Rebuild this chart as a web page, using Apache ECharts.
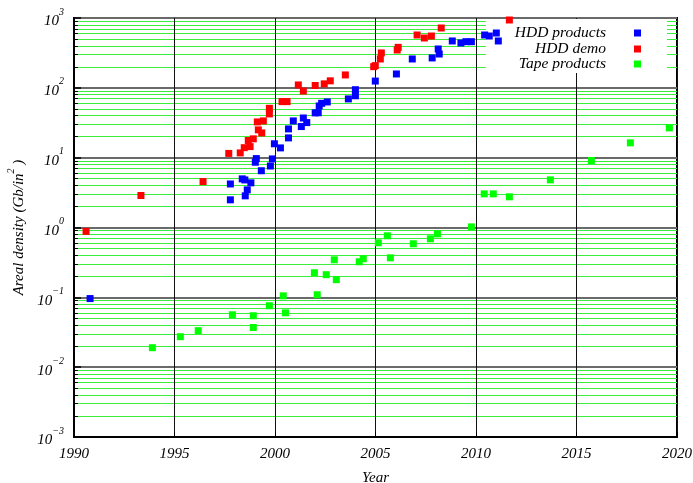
<!DOCTYPE html>
<html>
<head>
<meta charset="utf-8">
<script src="https://cdn.jsdelivr.net/npm/echarts@6/dist/echarts.min.js"></script>
<style>
  html, body { margin: 0; padding: 0; background: #fff; }
  #chart { width: 693px; height: 483px; }
</style>
</head>
<body>
<div id="chart"></div>
<script>
// 数据：年份与面密度 (Gb/in^2)
const hddProductsYear = [
    1990.8, 1997.78, 1997.78, 1998.37, 1998.5, 1998.8, 1998.62, 1998.52,
    1999.02, 1999.07, 1999.32, 1999.77, 1999.87, 1999.97, 2000.27, 2000.67,
    2000.67, 2000.91, 2001.31, 2001.41, 2001.58, 2002.0, 2002.15, 2002.2,
    2002.32, 2002.6, 2003.65, 2004.0, 2004.0, 2004.99, 2006.04, 2006.83,
    2007.82, 2008.12, 2008.17, 2008.82, 2009.25, 2009.5, 2009.77, 2010.43,
    2010.66, 2011.01, 2011.11
];
const hddProductsDensity = [
    0.096, 4.2, 2.49, 4.97, 4.8, 4.36, 3.46, 2.84,
    8.6, 9.7, 6.5, 7.6, 9.6, 15.8, 13.8, 19.2,
    25.8, 33.6, 27.9, 37, 31.8, 43.8, 44, 55,
    60, 62.8, 69.4, 94, 77, 125, 158, 259,
    268, 360, 305, 469, 439, 458, 458, 571,
    552, 610, 469
];

const hddDemoYear = [
    1990.6, 1993.33, 1996.42, 1997.7, 1998.27, 1998.47, 1998.76, 1998.67,
    1998.92, 1999.17, 1999.34, 1999.12, 1999.42, 1999.72, 1999.72, 2000.35,
    2000.6, 2001.16, 2001.41, 2002.0, 2002.45, 2002.75, 2003.5, 2004.91,
    2004.99, 2005.24, 2005.29, 2006.08, 2006.13, 2007.07, 2007.43, 2007.78,
    2008.27, 2011.66
];
const hddDemoDensity = [
    0.88, 2.87, 4.55, 11.5, 11.7, 13.9, 14.4, 17.6,
    18.6, 25, 22.6, 32.5, 33.6, 42.3, 50.9, 63.5,
    63.5, 110, 90, 108, 114, 126, 153, 201,
    208, 259, 316, 348, 380, 571, 517, 552,
    719, 936
];

const tapeProductsYear = [
    1993.9, 1995.29, 1996.18, 1997.88, 1998.92, 1998.92, 1999.72, 2000.52,
    2000.41, 2002.1, 2001.96, 2002.55, 2003.05, 2002.95, 2004.19, 2004.39,
    2005.14, 2005.59, 2005.74, 2006.88, 2007.73, 2008.08, 2009.77, 2010.41,
    2010.86, 2011.66, 2013.7, 2015.74, 2017.68, 2019.62
];
const tapeProductsDensity = [
    0.019, 0.0273, 0.0333, 0.0563, 0.037, 0.0545, 0.0758, 0.060,
    0.105, 0.109, 0.225, 0.211, 0.179, 0.345, 0.323, 0.357,
    0.604, 0.761, 0.368, 0.585, 0.689, 0.81, 1.02, 3.03,
    3.03, 2.75, 4.81, 9.1, 16.3, 26.7
];

const seriesNames = ['HDD products', 'HDD demo', 'Tape products'];
const seriesColors = ['#0000ff', '#ff0000', '#00ff00'];

const zip = (xs, ys) => xs.map((x, i) => [x, ys[i]]);

const serif = 'Liberation Serif';
const labelFont = { fontFamily: serif, fontStyle: 'italic', color: '#000' };

const chartDom = document.getElementById('chart');
const myChart = echarts.init(chartDom);

function legendItem(name, color, top, extra) {
    return Object.assign({
        data: [{ name: name, itemStyle: { color: color } }],
        orient: 'vertical',
        align: 'right',
        right: 52,
        top: top,
        padding: 0,
        icon: 'rect',
        itemWidth: 7,
        itemHeight: 7,
        z: 1,
        textStyle: Object.assign({ fontSize: 15.5, padding: [0, 23, 0, 0] }, labelFont)
    }, extra || {});
}

const option = {
    animation: false,
    grid: {
        left: 74, right: 16, top: 18, bottom: 46,
        outerBoundsMode: 'none',
        containLabel: false,
        show: true, borderColor: '#000', borderWidth: 2
    },
    legend: [
        legendItem(seriesNames[0], seriesColors[0], 19, {
            right: 26,
            padding: [6, 26, 32, 29],
            backgroundColor: '#fff'
        }),
        legendItem(seriesNames[1], seriesColors[1], 41),
        legendItem(seriesNames[2], seriesColors[2], 56)
    ],
    xAxis: {
        type: 'value',
        min: 1990,
        max: 2020,
        interval: 5,
        name: 'Year',
        nameLocation: 'middle',
        nameGap: 34,
        nameTextStyle: Object.assign({ fontSize: 15 }, labelFont),
        axisLine: { lineStyle: { color: '#000', width: 2 } },
        axisTick: { inside: true, length: 5, lineStyle: { color: '#000' } },
        axisLabel: Object.assign({
            fontSize: 15,
            margin: 10,
            formatter: v => String(v)
        }, labelFont),
        splitLine: { show: true, lineStyle: { color: '#111', width: 1 } }
    },
    yAxis: {
        type: 'log',
        logBase: 10,
        min: 0.001,
        max: 1000,
        splitNumber: 6,
        name: '{a|Areal density (Gb/in}{s|2}{a| )}',
        nameLocation: 'middle',
        nameGap: 36,
        nameTextStyle: {
            rich: {
                a: Object.assign({ fontSize: 15, verticalAlign: 'bottom', padding: [5, 0, 0, 0] }, labelFont),
                s: Object.assign({ fontSize: 10, verticalAlign: 'top' }, labelFont)
            }
        },
        axisLine: { lineStyle: { color: '#000', width: 2 } },
        axisTick: { inside: true, length: 7, lineStyle: { color: '#000', width: 1.5 } },
        minorTick: { show: true, splitNumber: 9, length: 4, lineStyle: { color: '#000' } },
        axisLabel: {
            margin: 10,
            formatter: function (value) {
                const e = Math.round(Math.log10(value));
                const s = e < 0 ? '\u2212' + (-e) : String(e);
                return '{b|10}{e|' + s + '}';
            },
            rich: {
                b: Object.assign({ fontSize: 15, verticalAlign: 'bottom', padding: [7, 0, 0, 0] }, labelFont),
                e: Object.assign({ fontSize: 10, verticalAlign: 'top' }, labelFont)
            }
        },
        splitLine: { show: true, lineStyle: { color: '#6a6a6a', width: 2 } },
        minorSplitLine: { show: true, lineStyle: { color: '#3cee3c', width: 1.2 } }
    },
    series: [
        { name: seriesNames[0], data: zip(hddProductsYear, hddProductsDensity), color: seriesColors[0] },
        { name: seriesNames[1], data: zip(hddDemoYear, hddDemoDensity), color: seriesColors[1] },
        { name: seriesNames[2], data: zip(tapeProductsYear, tapeProductsDensity), color: seriesColors[2] }
    ].map(s => Object.assign({
        type: 'scatter',
        symbol: 'rect',
        symbolSize: 7,
        itemStyle: { color: s.color, opacity: 1 }
    }, s))
};

myChart.setOption(option);

window.addEventListener('resize', function () {
    myChart.resize();
});
</script>
</body>
</html>
